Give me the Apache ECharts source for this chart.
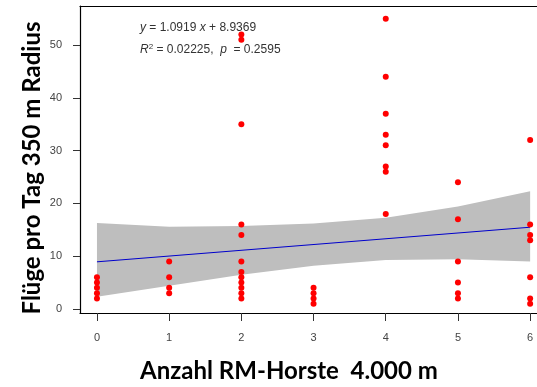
<!DOCTYPE html>
<html>
<head>
<meta charset="utf-8">
<script src="https://cdn.jsdelivr.net/npm/echarts@6/dist/echarts.min.js"></script>
<style>
  html, body { margin: 0; padding: 0; background: #fff; }
  #chart { width: 537px; height: 387px; }
</style>
</head>
<body>
<div id="chart"></div>
<script>
// Anzahl RM-Horste (x) und gemessene Flüge je Spalte
const horste = [0, 1, 2, 3, 4, 5, 6];
const fluege = [
  [2, 3, 4, 5, 6],
  [3, 4, 6, 9],
  [2, 3, 4, 5, 6, 7, 9, 14, 16, 35, 51, 52],
  [1, 2, 3, 4],
  [18, 26, 27, 31, 33, 37, 44, 55],
  [2, 3, 5, 9, 17, 24],
  [1, 2, 6, 13, 14, 16, 32]
];
// Regressionsgerade und Konfidenzband
const fitX = [0, 6];
const fitY = [8.9369, 15.488];
const bandX = [0, 1, 2, 3, 4, 5, 6];
const bandLower = [2.3, 4.4, 6.5, 8.2, 9.3, 9.4, 9.0];
const bandUpper = [16.3, 15.6, 15.7, 16.2, 17.3, 19.4, 22.3];
const xTicks = [0, 1, 2, 3, 4, 5, 6];
const yTicks = [0, 10, 20, 30, 40, 50];

const points = [];
horste.forEach((x, i) => {
  fluege[i].forEach(v => points.push([x, v]));
});

const myChart = echarts.init(document.getElementById('chart'));
const labelFont = 'Liberation Sans, Arial, sans-serif';
const titleFont = 'Lato, Open Sans, sans-serif';

const option = {
  animation: false,
  grid: { left: 80, top: 6, right: 0, height: 307 },
  xAxis: [
    {
      type: 'value',
      min: -0.235, max: 6.095,
      splitLine: { show: false },
      axisLine: { show: true, onZero: false, lineStyle: { color: '#000', width: 1.2 } },
      axisTick: { show: true, length: 8, customValues: xTicks, lineStyle: { color: '#333' } },
      axisLabel: { customValues: xTicks, margin: 19, color: '#444', fontSize: 11, fontFamily: labelFont }
    },
    {
      // nur obere Rahmenlinie
      type: 'value', position: 'top',
      min: -0.235, max: 6.095,
      splitLine: { show: false },
      axisLine: { show: true, onZero: false, lineStyle: { color: '#000', width: 1.2 } },
      axisTick: { show: false },
      axisLabel: { show: false }
    }
  ],
  yAxis: {
    type: 'value',
    min: -0.76, max: 57.4,
    splitLine: { show: false },
    axisLine: { show: true, onZero: false, lineStyle: { color: '#000', width: 1.2 } },
    axisTick: { show: true, length: 7, customValues: yTicks, lineStyle: { color: '#333' } },
    axisLabel: { customValues: yTicks, margin: 18, color: '#444', fontSize: 11, fontFamily: labelFont }
  },
  series: [
    {
      type: 'custom',
      z: 1,
      data: [0],
      silent: true,
      renderItem: function (params, api) {
        const pts = [];
        bandX.forEach((x, i) => pts.push(api.coord([x, bandUpper[i]])));
        for (let i = bandX.length - 1; i >= 0; i--) {
          pts.push(api.coord([bandX[i], bandLower[i]]));
        }
        return {
          type: 'polygon',
          shape: { points: pts },
          style: { fill: '#bebebe' }
        };
      }
    },
    {
      type: 'line',
      z: 2,
      data: fitX.map((x, i) => [x, fitY[i]]),
      showSymbol: false,
      lineStyle: { color: '#0000cc', width: 1 }
    },
    {
      type: 'scatter',
      z: 3,
      data: points,
      symbolSize: 6,
      itemStyle: { color: '#ff0000', opacity: 1 }
    }
  ],
  graphic: [
    {
      type: 'text', left: 140, top: 22,
      style: {
        text: '{i|y} = 1.0919 {i|x} + 8.9369',
        rich: { i: { fontStyle: 'italic', fontSize: 12, fontFamily: labelFont, fill: '#333' } },
        fontSize: 12, fontFamily: labelFont, fill: '#333'
      }
    },
    {
      type: 'text', left: 140, top: 43,
      style: {
        text: '{i|R}{s|2} = 0.02225,  {i|p}  = 0.2595',
        rich: {
          i: { fontStyle: 'italic', fontSize: 12, fontFamily: labelFont, fill: '#333' },
          s: { fontSize: 8, fontFamily: labelFont, fill: '#333', verticalAlign: 'top', padding: [0, 0, 6, 0] }
        },
        fontSize: 12, fontFamily: labelFont, fill: '#333'
      }
    },
    {
      type: 'text', x: 289, y: 371,
      style: {
        text: 'Anzahl RM-Horste  4.000 m',
        fontSize: 24, fontWeight: 'bold', fontFamily: titleFont, fill: '#000',
        textAlign: 'center', textVerticalAlign: 'middle'
      }
    },
    {
      type: 'text', x: 32, y: 168, rotation: Math.PI / 2,
      style: {
        text: 'Flüge pro Tag 350 m Radius',
        fontSize: 24, fontWeight: 'bold', fontFamily: titleFont, fill: '#000',
        textAlign: 'center', textVerticalAlign: 'middle'
      }
    }
  ]
};
myChart.setOption(option);
</script>
</body>
</html>
